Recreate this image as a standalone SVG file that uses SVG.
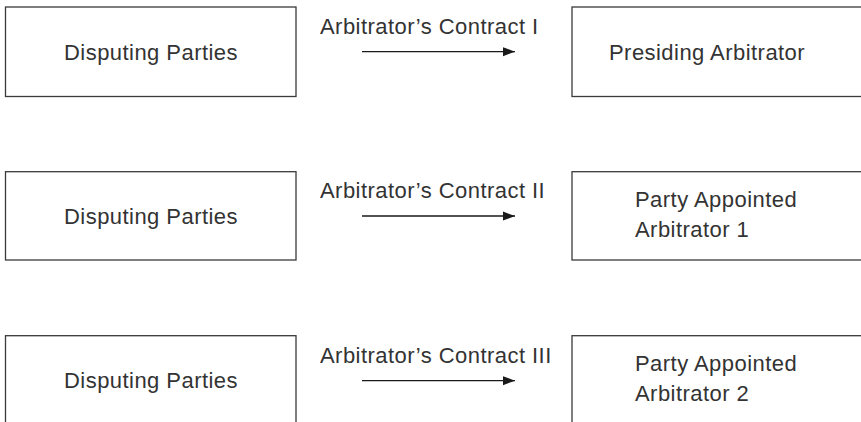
<svg xmlns="http://www.w3.org/2000/svg" width="861" height="422" viewBox="0 0 861 422">
<style>
.box{fill:#fff;stroke:#3a3a3a;stroke-width:1.3}
.t{font-family:"Liberation Sans",Arial,sans-serif;font-size:22px;letter-spacing:0.45px;fill:#333}
.c{text-anchor:middle}
.arr{stroke:#1a1a1a;stroke-width:1.3;fill:none;marker-end:url(#ah)}
</style>
<defs>
<marker id="ah" markerWidth="14" markerHeight="12" refX="12" refY="6" orient="auto" markerUnits="userSpaceOnUse">
<path d="M0,1.5 L12,6 L0,10.5 Z" fill="#1a1a1a"/>
</marker>
</defs>
<rect width="861" height="422" fill="#fff"/>
<g id="dp1"><rect class="box" x="5.5" y="7" width="290.5" height="89.5"/><text class="t c" x="151" y="60">Disputing Parties</text></g>
<g id="pa"><rect class="box" x="572" y="7" width="300" height="89.5"/><text class="t" x="609" y="60">Presiding Arbitrator</text></g>
<g id="dp2"><rect class="box" x="5.5" y="171.7" width="290.5" height="88.3"/><text class="t c" x="151" y="224">Disputing Parties</text></g>
<g id="pa1"><rect class="box" x="572" y="171.7" width="300" height="88.3"/><text class="t" x="635" y="207">Party Appointed</text><text class="t" x="635" y="237">Arbitrator 1</text></g>
<g id="dp3"><rect class="box" x="5.5" y="335.7" width="290.5" height="100"/><text class="t c" x="151" y="388">Disputing Parties</text></g>
<g id="pa2"><rect class="box" x="572" y="335.7" width="300" height="100"/><text class="t" x="635" y="371">Party Appointed</text><text class="t" x="635" y="401">Arbitrator 2</text></g>
<g id="connectors">
<line class="arr" x1="362" y1="51.7" x2="515" y2="51.7"/>
<text class="t" x="320" y="34">Arbitrator’s Contract I</text>
<line class="arr" x1="362" y1="216" x2="515" y2="216"/>
<text class="t" x="320" y="198">Arbitrator’s Contract II</text>
<line class="arr" x1="362" y1="380.7" x2="515" y2="380.7"/>
<text class="t" x="320" y="363">Arbitrator’s Contract III</text>
</g>
</svg>
